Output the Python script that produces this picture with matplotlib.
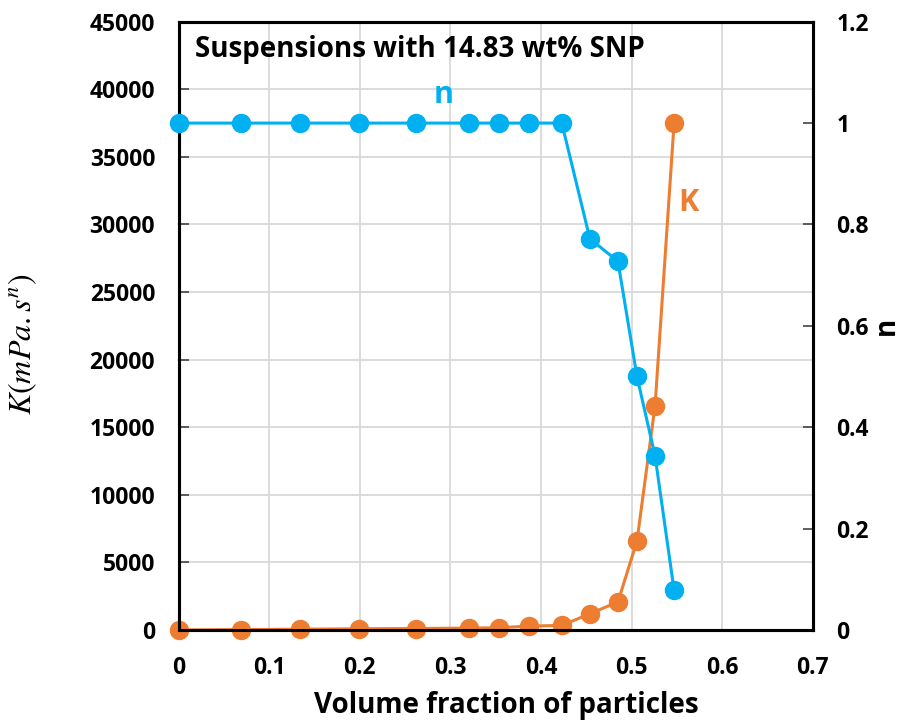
import numpy as np
import matplotlib.pyplot as plt

plt.rcParams['mathtext.fontset'] = 'stix'

# volume fraction of particles
phi = [0.0, 0.069, 0.134, 0.199, 0.262, 0.321, 0.354, 0.387, 0.423,
       0.454, 0.485, 0.506, 0.526, 0.547]
# consistency index K (mPa.s^n)
K = [0, 20, 50, 80, 100, 130, 160, 280, 330,
     1190, 2070, 6570, 16600, 37500]
# flow index n
n = [1.0, 1.0, 1.0, 1.0, 1.0, 1.0, 1.0, 1.0, 1.0,
     0.772, 0.727, 0.500, 0.343, 0.078]

xticks = [0, 0.1, 0.2, 0.3, 0.4, 0.5, 0.6, 0.7]
kticks = [0, 5000, 10000, 15000, 20000, 25000, 30000, 35000, 40000, 45000]
nticks = [0, 0.2, 0.4, 0.6, 0.8, 1.0, 1.2]

blue = '#00B0F0'
orange = '#ED7D31'
font = 'Open Sans'
tickfont = dict(fontsize=16.5, fontweight='bold', family=font)


def fmt(t):
    # Excel style: 0, 0.2 ... 1, 1.2
    return f'{t:g}'


def main():
    fig = plt.figure(figsize=(9.07, 7.24), dpi=100)
    ax = fig.add_axes([0.197, 0.130, 0.699, 0.840])
    ax2 = ax.twinx()

    ax.plot(phi, K, '-o', color=orange, lw=2.2, ms=13, clip_on=False, zorder=3)
    ax2.plot(phi, n, '-o', color=blue, lw=2.2, ms=13, clip_on=False, zorder=3)

    ax.set_xlim(0, 0.7)
    ax.set_ylim(0, 45000)
    ax2.set_ylim(0, 1.2)
    ax.set_xticks(xticks)
    ax.set_xticklabels([fmt(t) for t in xticks], **tickfont)
    ax.set_yticks(kticks)
    ax.set_yticklabels([str(t) for t in kticks], **tickfont)
    ax2.set_yticks(nticks)
    ax2.set_yticklabels([fmt(t) for t in nticks], **tickfont)

    ax.grid(True, color='#d9d9d9', lw=1.3)
    ax.set_axisbelow(True)

    for a in (ax, ax2):
        for s in a.spines.values():
            s.set_linewidth(2.2)
            s.set_color('black')
        a.tick_params(axis='y', direction='in', length=7, width=1.2, color='#444444', pad=17)
    ax.tick_params(axis='x', direction='in', length=0, pad=19)

    ax.set_xlabel('Volume fraction of particles', fontsize=20, fontweight='bold',
                  family=font, labelpad=4)
    ax.xaxis.set_label_coords(0.516, -0.1)
    ax.set_ylabel(r'$K(mPa.s^n)$', fontsize=23)
    ax.yaxis.set_label_coords(-0.22, 0.47)
    ax2.set_ylabel('n', fontsize=20, fontweight='bold', family=font, labelpad=2)

    ax.text(0.025, 0.954, 'Suspensions with 14.83 wt% SNP', transform=ax.transAxes,
            fontsize=20, fontweight='bold', family=font, va='center', ha='left')
    ax2.text(0.292, 1.056, 'n', color=blue, fontsize=22, fontweight='bold',
             family=font, ha='center', va='center')
    ax2.text(0.563, 0.843, 'K', color=orange, fontsize=22, fontweight='bold',
             family=font, ha='center', va='center')

    fig.savefig('out.png', dpi=100)


if __name__ == '__main__':
    main()
